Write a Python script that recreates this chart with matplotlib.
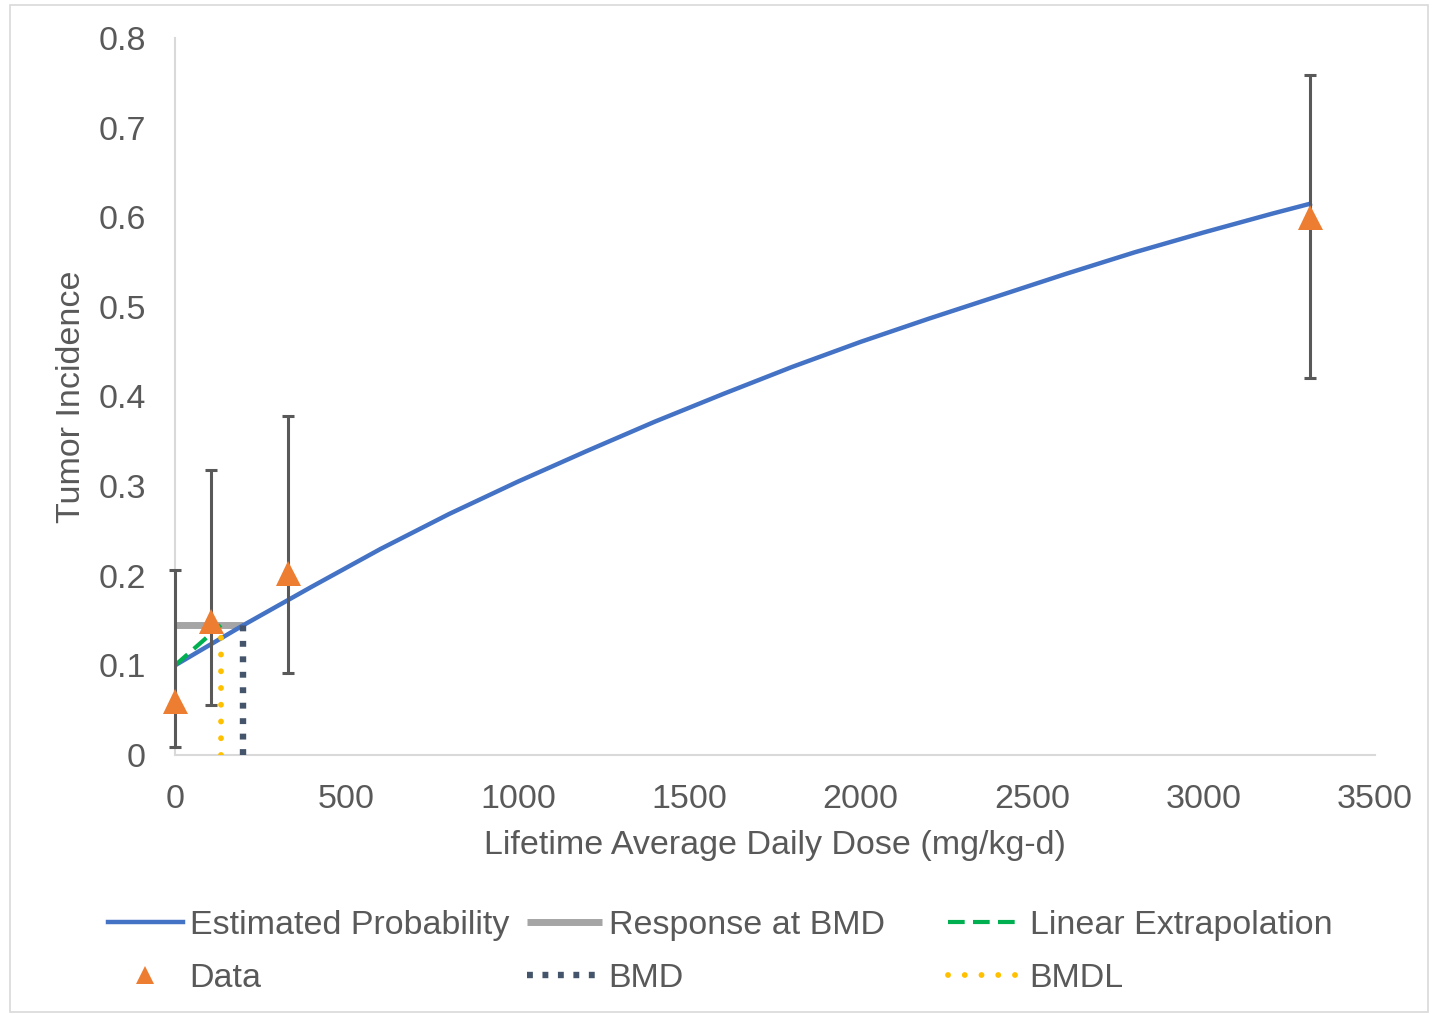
import matplotlib.pyplot as plt
from matplotlib.patches import Rectangle

plt.rcParams['font.family'] = ['Liberation Sans', 'DejaVu Sans']

# fitted curve
curve_dose = [0, 200, 400, 600, 800, 1000, 1200, 1400, 1600, 1800,
              2000, 2200, 2400, 2600, 2800, 3000, 3200, 3310]
curve_prob = [0.100, 0.145, 0.188, 0.230, 0.269, 0.305, 0.339, 0.372, 0.403, 0.433,
              0.461, 0.487, 0.512, 0.537, 0.561, 0.583, 0.604, 0.615]

# observed incidence and confidence limits
data_dose = [0, 105, 330, 3310]
data_inc = [0.06, 0.149, 0.203, 0.600]
data_lo = [0.009, 0.056, 0.092, 0.421]
data_hi = [0.206, 0.318, 0.378, 0.759]

bmr_resp = 0.145
bmd = 199
bmdl = 134
bkg = 0.100

text_col = '#595959'
fs = 24.5

fig = plt.figure(figsize=(14.35, 10.14), dpi=100)
ax = fig.add_axes([175 / 1435, 1 - 755 / 1014, 1200 / 1435, 717 / 1014])

ax.plot(curve_dose, curve_prob, color='#4472C4', lw=3.2, label='Estimated Probability',
        solid_joinstyle='round', zorder=3)
ax.plot([0, bmd], [bmr_resp, bmr_resp], color='#A5A5A5', lw=5, solid_capstyle='butt',
        label='Response at BMD', zorder=2)
ax.plot([0, bmdl], [bkg, bmr_resp], color='#00B050', lw=3, linestyle=(0, (4, 2)),
        label='Linear Extrapolation', zorder=4)

yerr = [[v - l for v, l in zip(data_inc, data_lo)], [h - v for v, h in zip(data_inc, data_hi)]]
eb = ax.errorbar(data_dose, data_inc, yerr=yerr, fmt='none', ecolor=text_col, elinewidth=2.2,
                 capsize=4.5, capthick=2.2, zorder=5)
for art in eb.get_children():
    art.set_clip_on(False)
ax.plot(data_dose, data_inc, linestyle='none', marker='^', markersize=18, color='#ED7D31',
        markeredgewidth=0, label='Data', zorder=6, clip_on=False)

ax.plot([bmd, bmd], [0, bmr_resp], color='#44546A', lw=4.6, linestyle=(0, (0.92, 1.5)),
        dash_capstyle='butt', label='BMD', zorder=4)
ax.plot([bmdl, bmdl], [0, bmr_resp], color='#FFC000', lw=4.2, linestyle=(0, (0.01, 2.86)),
        dash_capstyle='round', label='BMDL', zorder=4)

ax.set_xlim(0, 3500)
ax.set_ylim(0, 0.8)
ax.set_xticks(range(0, 3501, 500))
ax.set_yticks([i / 10 for i in range(9)])
ax.set_yticklabels(['0'] + ['%.1f' % (i / 10) for i in range(1, 9)])
ax.tick_params(length=0, labelsize=fs, colors=text_col, pad=21)
for s in ['top', 'right']:
    ax.spines[s].set_visible(False)
for s in ['left', 'bottom']:
    ax.spines[s].set_color('#D9D9D9')
    ax.spines[s].set_linewidth(1.5)

ax.set_xlabel('Lifetime Average Daily Dose (mg/kg-d)', fontsize=fs, color=text_col)
ax.set_ylabel('Tumor Incidence', fontsize=fs, color=text_col)
ax.xaxis.set_label_coords(0.5, -0.105)
ax.yaxis.set_label_coords(-0.073, 0.5)

h = {ln.get_label(): ln for ln in ax.get_lines()}
cols = [(['Estimated Probability', 'Data'], 108),
        (['Response at BMD', 'BMD'], 527),
        (['Linear Extrapolation', 'BMDL'], 948)]
for names, xpx in cols:
    fig.legend([h[n] for n in names], names, loc='upper left',
               bbox_to_anchor=(xpx / 1435, 1 - 910 / 1014), frameon=False,
               fontsize=fs, labelcolor=text_col, handlelength=2.2, handletextpad=0.2,
               labelspacing=0.64, borderpad=0, borderaxespad=0, markerscale=0.75)

fig.patches.append(Rectangle((10 / 1435, 1 - 1012 / 1014), 1418 / 1435, 1007 / 1014,
                             transform=fig.transFigure, fill=False, edgecolor='#D9D9D9', lw=1.2))

fig.savefig('out.png', dpi=100)
